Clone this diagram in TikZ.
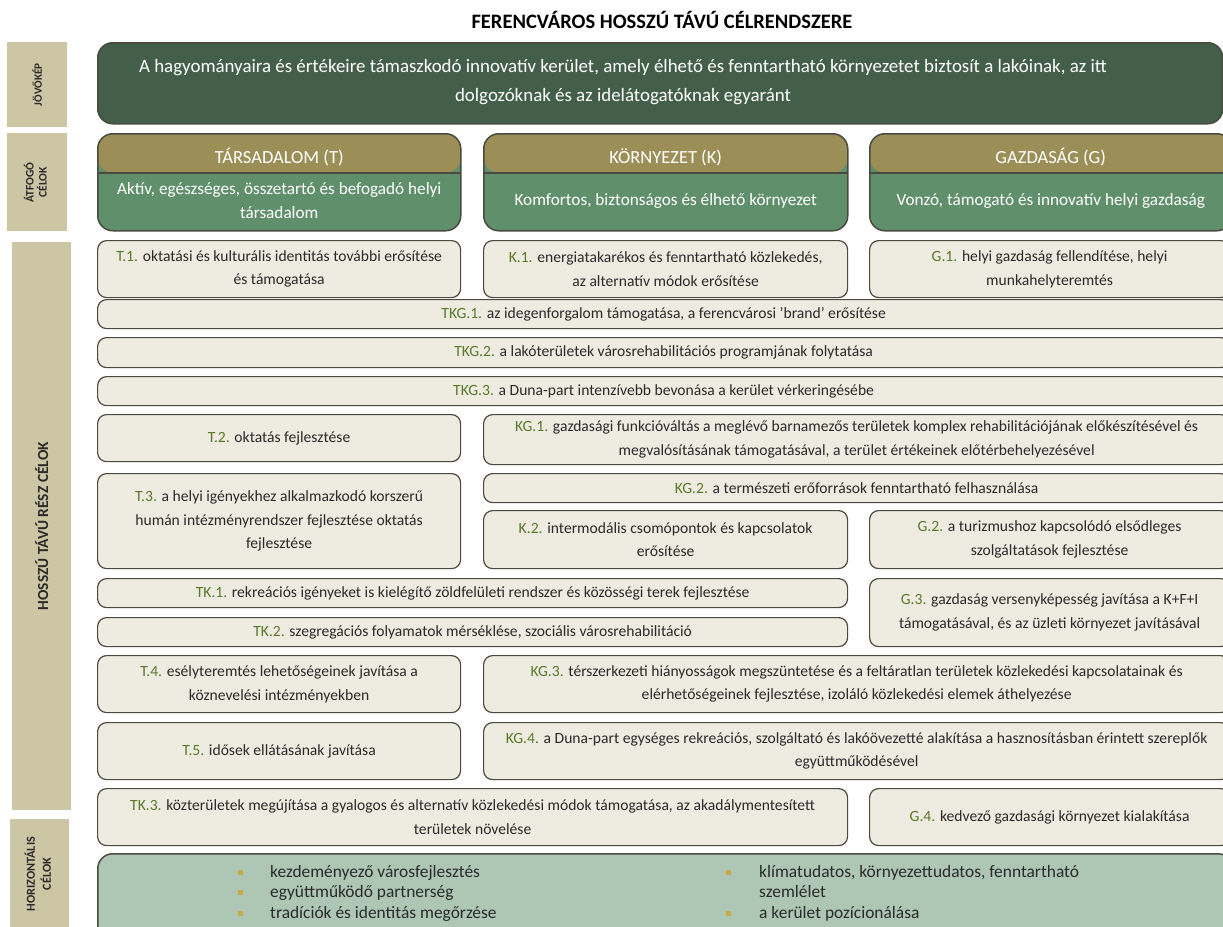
\documentclass[tikz,border=0pt]{standalone}
\usepackage{fontspec}
\setmainfont{Carlito}
\usetikzlibrary{positioning}

\definecolor{tanc}{HTML}{CDC6A4}
\definecolor{visgreen}{HTML}{435F49}
\definecolor{polive}{HTML}{9B8E57}
\definecolor{pgreen}{HTML}{5F8F6B}
\definecolor{creamc}{HTML}{EEEBE1}
\definecolor{edgec}{HTML}{4A4A3E}
\definecolor{hgreen}{HTML}{ADC7B4}
\definecolor{codec}{HTML}{5A7A2A}
\definecolor{darktxt}{HTML}{2A2A2A}
\definecolor{bulc}{HTML}{C9A94A}

\newcommand\code[1]{{\color{codec}#1}}
\newcommand\hbul{\textcolor{bulc}{\rule[2.5pt]{5pt}{5pt}}}

\begin{document}
\begin{tikzpicture}[x=1pt, y=-1pt,
		side/.style    = {fill=tanc, anchor=north west, inner sep=0pt, text=darktxt, font=\bfseries\fontsize{11.5}{15}\selectfont},
		vision/.style  = {draw=edgec, line width=1.5pt, fill=visgreen, rounded corners=15pt, anchor=north west, inner sep=0pt},
		vistext/.style = {text=white, inner sep=0pt, align=center, font=\fontsize{18.9}{29}\selectfont},
		pillar/.style  = {draw=edgec, line width=1.5pt, fill=pgreen, rounded corners=15pt, anchor=north west, inner sep=0pt, minimum height=97pt,
			path picture={\fill[polive] (path picture bounding box.north west) rectangle ([yshift=-39pt]path picture bounding box.north east);
				\draw[edgec, line width=1.5pt] ([yshift=-39pt]path picture bounding box.north west) -- ([yshift=-39pt]path picture bounding box.north east);}},
		pilhead/.style = {text=white, inner sep=0pt, font=\fontsize{18.5}{22}\selectfont},
		pilbody/.style = {text=white, inner sep=0pt, align=center, font=\fontsize{17.2}{24}\selectfont},
		goal/.style    = {draw=edgec, line width=1.2pt, fill=creamc, rounded corners=9pt, anchor=north west, inner sep=0pt, align=center, text=darktxt, font=\fontsize{15.6}{23.5}\selectfont},
		horiz/.style   = {draw=edgec, line width=1.5pt, fill=hgreen, rounded corners=15pt, anchor=north west, inner sep=0pt},
		hlist/.style   = {anchor=base west, inner sep=0pt, text=darktxt, font=\fontsize{17.4}{20.5}\selectfont}]
	
	\fill[white] (0,0) rectangle (1223,926);
	\useasboundingbox (0,0) rectangle (1223,926);
	
	% title
	\node[font=\bfseries\fontsize{20.5}{24}\selectfont, text=black] (title) at (662,20) {FERENCVÁROS HOSSZÚ TÁVÚ CÉLRENDSZERE};
	
	% side labels
	\node[side, minimum width=60pt, minimum height=85pt, font=\bfseries\fontsize{11.2}{14}\selectfont] (jov) at (7,42) {\rotatebox{90}{JÖVŐKÉP}};
	\node[side, minimum width=60pt, minimum height=98pt] (atf) at (7,133) {\rotatebox{90}{\begin{tabular}{@{}c@{}}ÁTFOGÓ\\[-2pt]CÉLOK\end{tabular}}};
	\node[side, minimum width=59pt, minimum height=568pt, font=\bfseries\fontsize{15.4}{18}\selectfont] (hos) at (12,242) {\rotatebox{90}{HOSSZÚ TÁVÚ RÉSZ CÉLOK}};
	\node[side, minimum width=59pt, minimum height=110pt, font=\bfseries\fontsize{12.2}{16}\selectfont] (hor) at (10,819) {\rotatebox{90}{\begin{tabular}{@{}c@{}}HORIZONTÁLIS\\CÉLOK\end{tabular}}};
	
	% vision
	\node[vision, minimum width=1125pt, minimum height=81pt] (vis) at (97,42) {};
	\node[vistext] (vist) at (623,82)
	{A hagyományaira és értékeire támaszkodó innovatív kerület, amely élhető és fenntartható környezetet biztosít a lakóinak, az itt\\dolgozóknak és az idelátogatóknak egyaránt};
	
	% pillars
	\node[pillar, minimum width=363pt] (pT) at (97,133) {};
	\node[pillar, minimum width=364pt] (pK) at (483,133) {};
	\node[pillar, minimum width=362pt] (pG) at (869,133) {};
	\node[pilhead] (pTh) at ([yshift=-24pt]pT.north) {TÁRSADALOM (T)};
	\node[pilhead] (pKh) at ([yshift=-24pt]pK.north) {KÖRNYEZET (K)};
	\node[pilhead] (pGh) at ([yshift=-24pt]pG.north) {GAZDASÁG (G)};
	\node[pilbody] (pTb) at ([yshift=-68pt]pT.north) {Aktív, egészséges, összetartó és befogadó helyi\\társadalom};
	\node[pilbody] (pKb) at ([yshift=-68pt]pK.north) {Komfortos, biztonságos és élhető környezet};
	\node[pilbody] (pGb) at ([yshift=-68pt]pG.north) {Vonzó, támogató és innovatív helyi gazdaság};
	
	% long term goals
	\node[goal, minimum width=363pt, minimum height=57pt] (t1) at (97,240) {\code{T.1.} oktatási és kulturális identitás további erősítése\\és támogatása};
	\node[goal, minimum width=364pt, minimum height=57pt] (k1) at (483,240) {\code{K.1.} energiatakarékos és fenntartható közlekedés,\\az alternatív módok erősítése};
	\node[goal, minimum width=360pt, minimum height=57pt] (g1) at (869,240) {\code{G.1.} helyi gazdaság fellendítése, helyi\\munkahelyteremtés};
	
	\node[goal, minimum width=1132pt, minimum height=29pt] (tkg1) at (97,299) {\code{TKG.1.} az idegenforgalom támogatása, a ferencvárosi ’brand’ erősítése};
	\node[goal, minimum width=1132pt, minimum height=30pt] (tkg2) at (97,337) {\code{TKG.2.} a lakóterületek városrehabilitációs programjának folytatása};
	\node[goal, minimum width=1132pt, minimum height=29pt] (tkg3) at (97,376) {\code{TKG.3.} a Duna-part intenzívebb bevonása a kerület vérkeringésébe};
	
	\node[goal, minimum width=363pt, minimum height=47pt] (t2) at (97,414) {\code{T.2.} oktatás fejlesztése};
	\node[goal, minimum width=746pt, minimum height=50pt] (kg1) at (483,414) {\code{KG.1.} gazdasági funkcióváltás a meglévő barnamezős területek komplex rehabilitációjának előkészítésével és\\megvalósításának támogatásával, a terület értékeinek előtérbehelyezésével};
	
	\node[goal, minimum width=363pt, minimum height=95pt] (t3) at (97,473) {\code{T.3.} a helyi igényekhez alkalmazkodó korszerű\\humán intézményrendszer fejlesztése oktatás\\fejlesztése};
	\node[goal, minimum width=746pt, minimum height=29pt] (kg2) at (483,473) {\code{KG.2.} a természeti erőforrások fenntartható felhasználása};
	\node[goal, minimum width=364pt, minimum height=58pt] (k2) at (483,510) {\code{K.2.} intermodális csomópontok és kapcsolatok\\erősítése};
	\node[goal, minimum width=360pt, minimum height=58pt] (g2) at (869,510) {\code{G.2.} a turizmushoz kapcsolódó elsődleges\\szolgáltatások fejlesztése};
	
	\node[goal, minimum width=750pt, minimum height=29pt] (tk1) at (97,578) {\code{TK.1.} rekreációs igényeket is kielégítő zöldfelületi rendszer és közösségi terek fejlesztése};
	\node[goal, minimum width=750pt, minimum height=29pt] (tk2) at (97,617) {\code{TK.2.} szegregációs folyamatok mérséklése, szociális városrehabilitáció};
	\node[goal, minimum width=360pt, minimum height=68pt] (g3) at (869,578) {\code{G.3.} gazdaság versenyképesség javítása a K+F+I\\támogatásával, és az üzleti környezet javításával};
	
	\node[goal, minimum width=363pt, minimum height=57pt] (t4) at (97,655) {\code{T.4.} esélyteremtés lehetőségeinek javítása a\\köznevelési intézményekben};
	\node[goal, minimum width=746pt, minimum height=57pt] (kg3) at (483,655) {\code{KG.3.} térszerkezeti hiányosságok megszüntetése és a feltáratlan területek közlekedési kapcsolatainak és\\elérhetőségeinek fejlesztése, izoláló közlekedési elemek áthelyezése};
	
	\node[goal, minimum width=363pt, minimum height=57pt] (t5) at (97,722) {\code{T.5.} idősek ellátásának javítása};
	\node[goal, minimum width=746pt, minimum height=57pt] (kg4) at (483,722) {\code{KG.4.} a Duna-part egységes rekreációs, szolgáltató és lakóövezetté alakítása a hasznosításban érintett szereplők\\együttműködésével};
	
	\node[goal, minimum width=750pt, minimum height=57pt] (tk3) at (97,788) {\code{TK.3.} közterületek megújítása a gyalogos és alternatív közlekedési módok támogatása, az akadálymentesített\\területek növelése};
	\node[goal, minimum width=360pt, minimum height=57pt] (g4) at (869,788) {\code{G.4.} kedvező gazdasági környezet kialakítása};
	
	% horizontal goals
	\node[horiz, minimum width=1135pt, minimum height=95pt] (hz) at (97,853) {};
	\node[hlist] (hzl) at (238,877) {\begin{tabular}[t]{@{}p{32pt}@{}l@{}}
			\hbul & kezdeményező városfejlesztés\\
			\hbul & együttműködő partnerség\\
			\hbul & tradíciók és identitás megőrzése
	\end{tabular}};
	\node[hlist] (hzr) at (726,877) {\begin{tabular}[t]{@{}p{33pt}@{}l@{}}
			\hbul & klímatudatos, környezettudatos, fenntartható\\
			& szemlélet\\
			\hbul & a kerület pozícionálása
	\end{tabular}};
	
\end{tikzpicture}
\end{document}
